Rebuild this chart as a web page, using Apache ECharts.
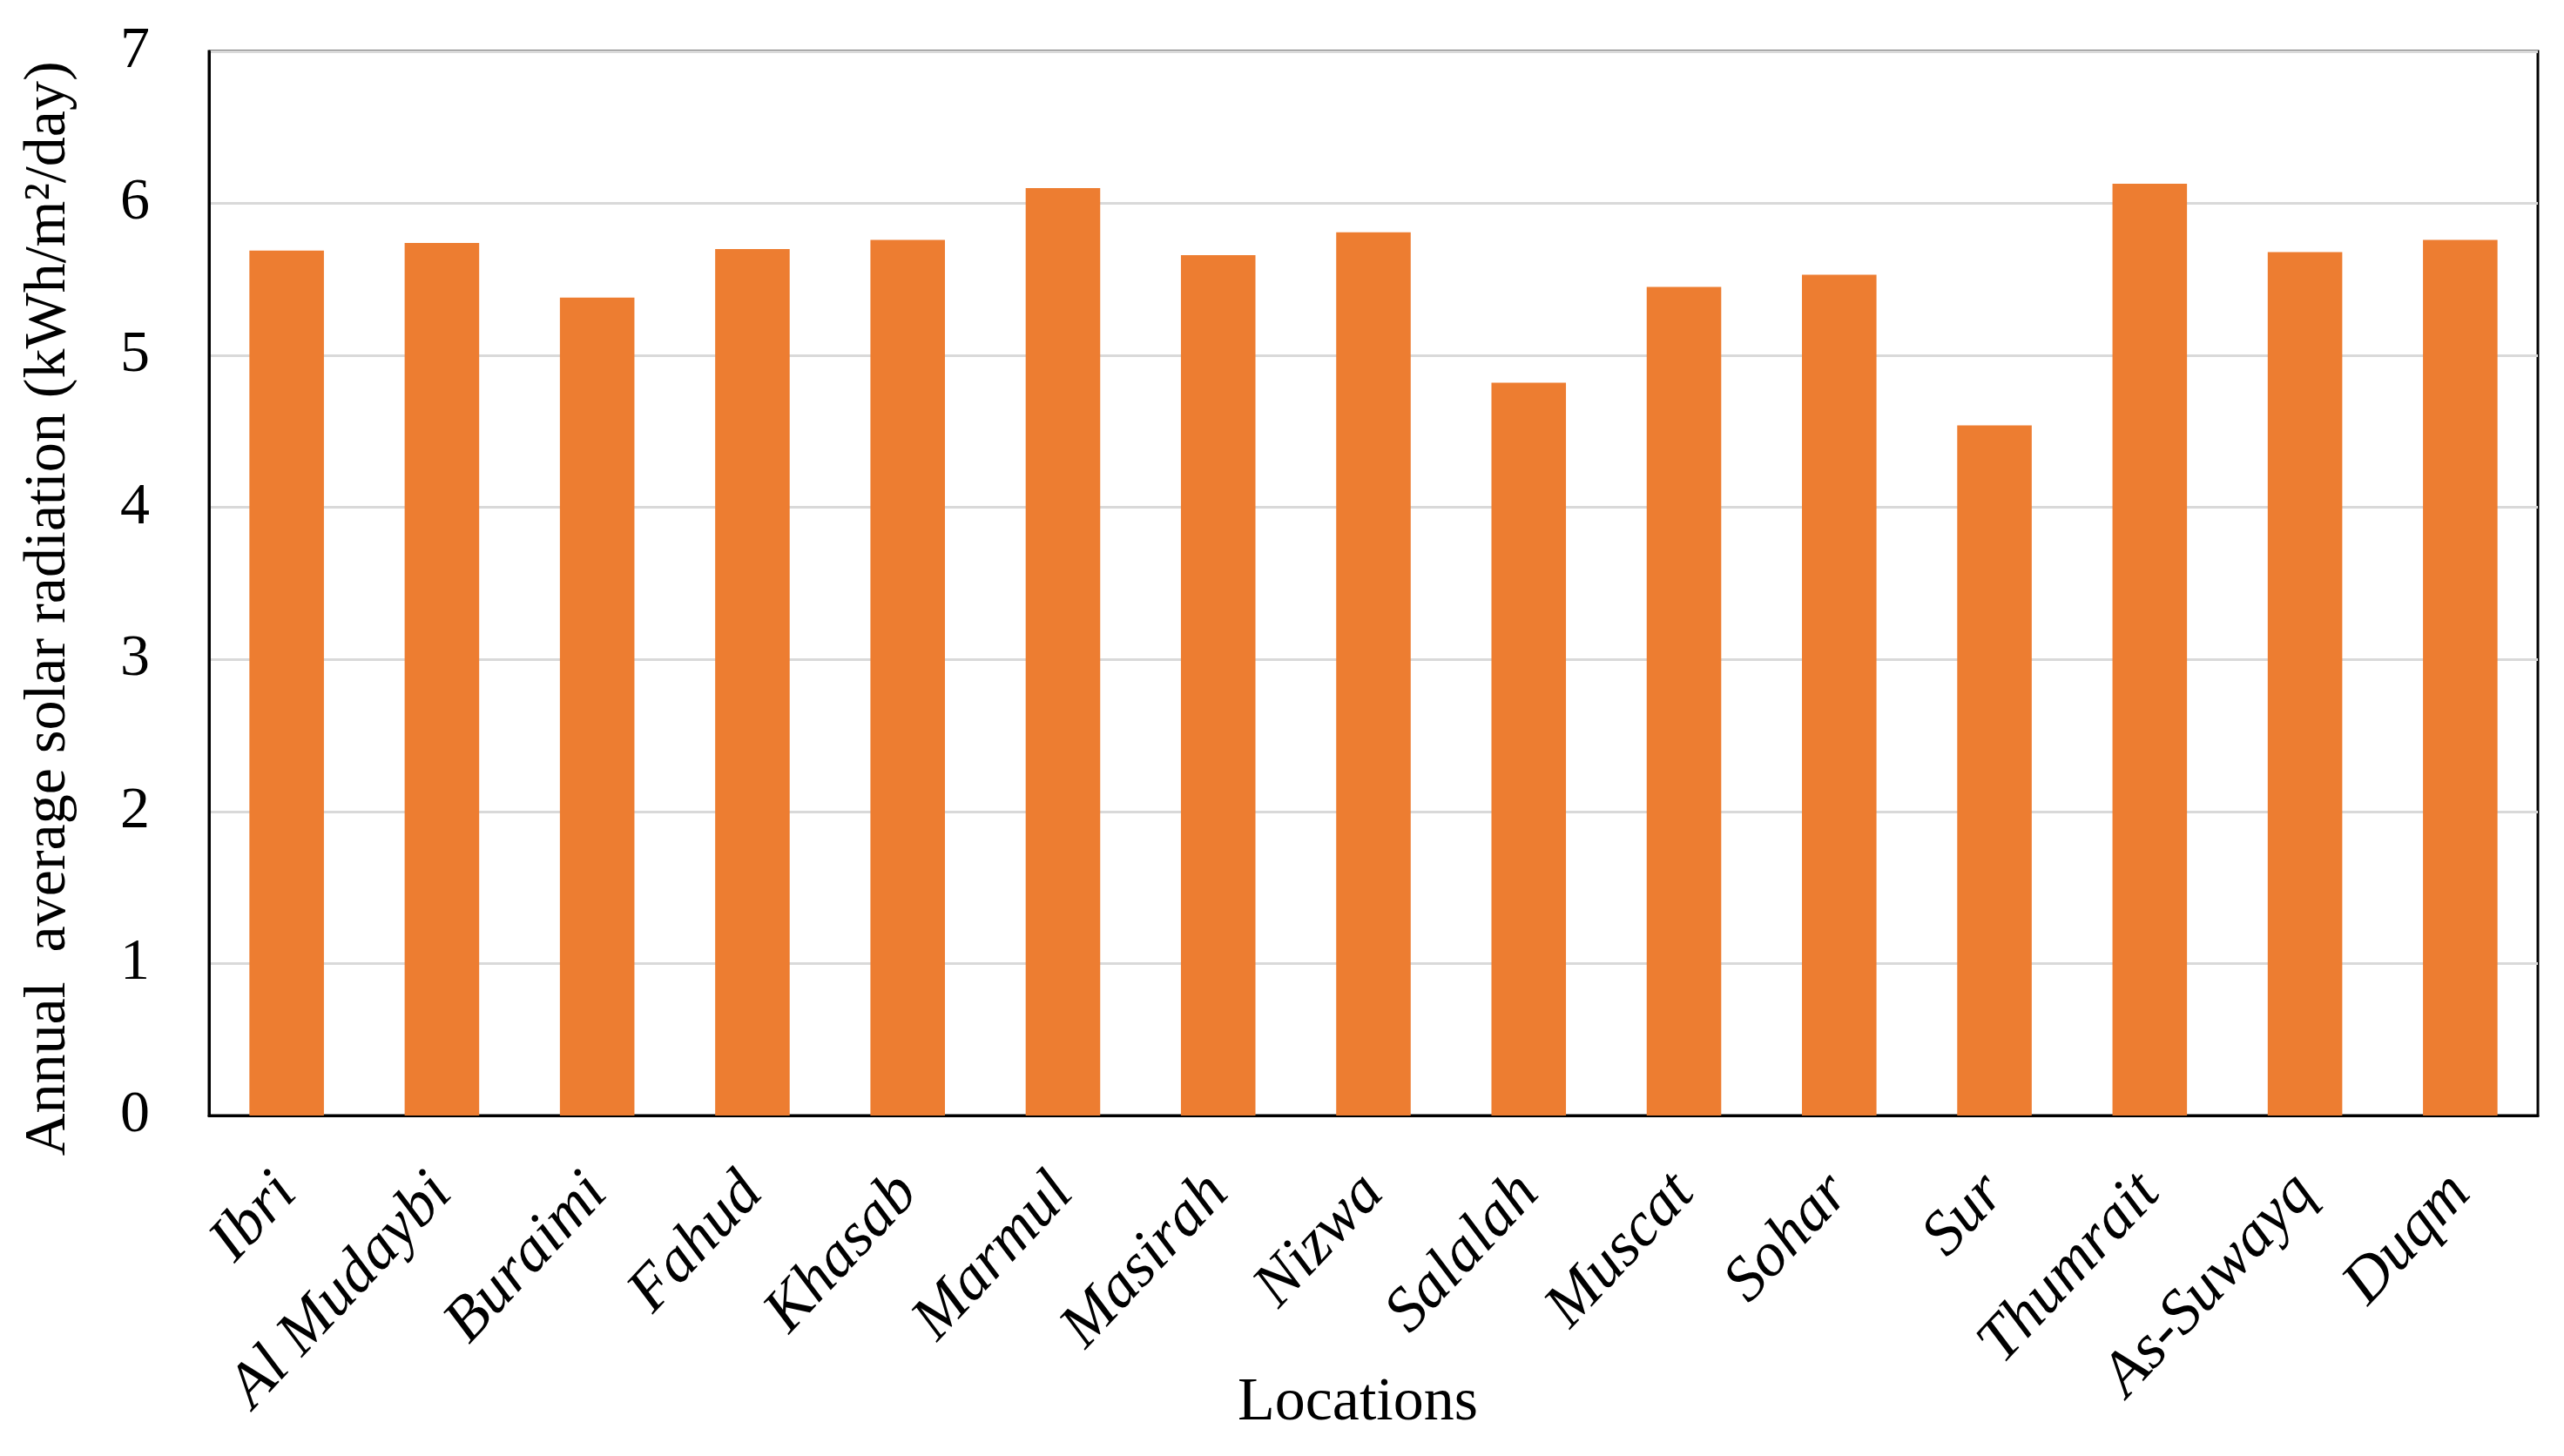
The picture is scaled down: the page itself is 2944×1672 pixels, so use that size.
<!DOCTYPE html>
<html>
<head>
<meta charset="utf-8">
<script src="https://cdn.jsdelivr.net/npm/echarts@6/dist/echarts.min.js"></script>
<style>
html,body{margin:0;padding:0;background:#fff;}
#chart{width:2944px;height:1672px;}
</style>
</head>
<body>
<div id="chart"></div>
<script>
const locations = ["Ibri","Al Mudaybi","Buraimi","Fahud","Khasab","Marmul","Masirah","Nizwa","Salalah","Muscat","Sohar","Sur","Thumrait","As-Suwayq","Duqm"];
const radiation = [5.69,5.74,5.38,5.70,5.76,6.10,5.66,5.81,4.82,5.45,5.53,4.54,6.13,5.68,5.76];
const yTicks = [0,1,2,3,4,5,6,7];
const xAxisTitle = "Locations";
const yAxisTitle = "Annual  average solar radiation (kWh/m\u00B2/day)";

const FONT = "Liberation Serif";
const chart = echarts.init(document.getElementById('chart'));
chart.setOption({
  animation:false,
  backgroundColor:'#fff',
  grid:{left:240,right:30,top:59,bottom:391,containLabel:false,outerBoundsMode:'none',show:true,borderColor:'#000',borderWidth:3,backgroundColor:'transparent'},
  xAxis:{
    type:'category',
    data:locations,
    name:xAxisTitle,
    nameLocation:'middle',
    nameGap:296,
    nameMoveOverlap:false,
    nameTextStyle:{fontFamily:FONT,fontSize:70,color:'#000',padding:[0,36,0,0]},
    axisLine:{show:true,lineStyle:{color:'#000',width:3}},
    axisTick:{show:false},
    axisLabel:{rotate:47,margin:78,fontFamily:FONT,fontSize:72,color:'#000',fontStyle:'italic',interval:0}
  },
  yAxis:{
    type:'value',
    min:yTicks[0],max:yTicks[yTicks.length-1],interval:1,
    name:yAxisTitle,
    nameLocation:'middle',
    nameGap:150,
    nameMoveOverlap:false,
    nameTextStyle:{fontFamily:FONT,fontSize:68,color:'#000',padding:[0,58,0,0]},
    axisLine:{show:true,lineStyle:{color:'#000',width:3}},
    axisTick:{show:false},
    splitLine:{show:true,lineStyle:{color:'#d9d9d9',width:3}},
    axisLabel:{margin:68,fontFamily:FONT,fontSize:68,color:'#000'}
  },
  series:[{
    type:'bar',
    data:radiation,
    barWidth:'48%',
    itemStyle:{color:'#ED7D31'}
  }]
});
</script>
</body>
</html>
